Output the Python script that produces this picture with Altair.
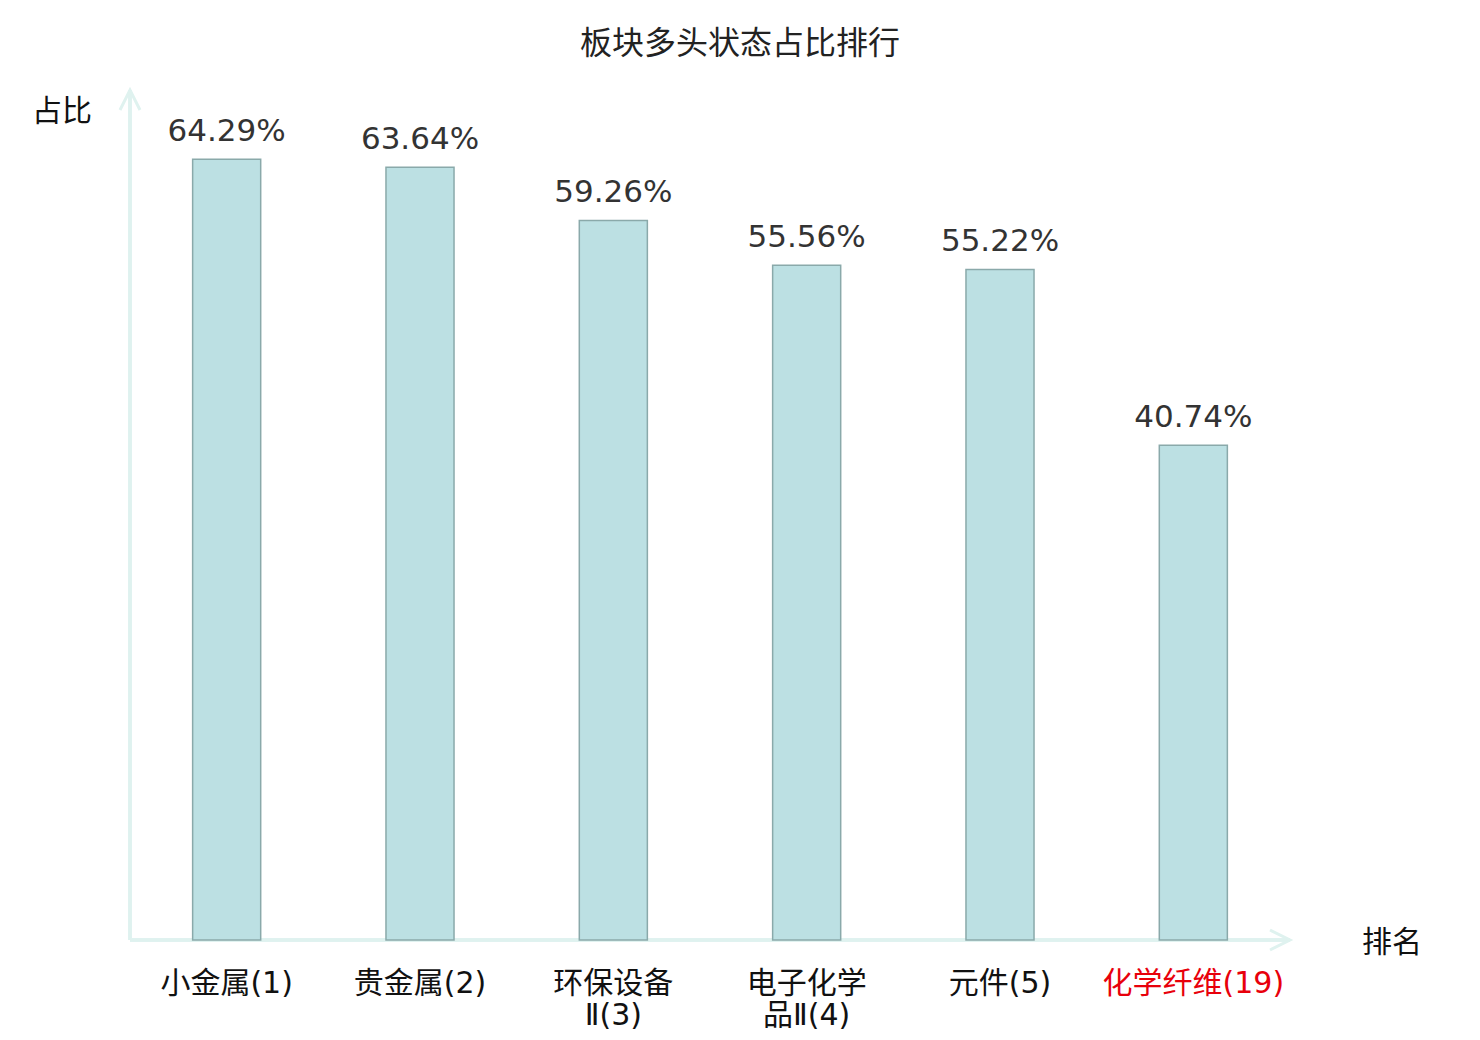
import altair as alt
import pandas as pd

categories = ["小金属(1)", "贵金属(2)", "环保设备Ⅱ(3)", "电子化学品Ⅱ(4)", "元件(5)", "化学纤维(19)"]
label_lines = ["小金属(1)", "贵金属(2)", "环保设备\nⅡ(3)", "电子化学\n品Ⅱ(4)", "元件(5)", "化学纤维(19)"]
values = [64.29, 63.64, 59.26, 55.56, 55.22, 40.74]
label_colors = ["#111111", "#111111", "#111111", "#111111", "#111111", "#e8000b"]

W, H = 1160, 850
AXIS_COLOR = "#dff2ef"
CJK = "Noto Sans CJK SC"
MIXED = "DejaVu Sans ExtraLight, DejaVu Sans, Noto Sans CJK SC"

df = pd.DataFrame({
    "cat": categories,
    "lab": label_lines,
    "val": values,
    "col": label_colors,
    "txt": [f"{v:.2f}%" for v in values],
})

x = alt.X("cat:N", sort=categories, axis=None,
          scale=alt.Scale(paddingInner=0.648, paddingOuter=0.324))
y = alt.Y("val:Q", axis=None, scale=alt.Scale(domain=[0, 70], nice=False))

base = alt.Chart(df)

bars = base.mark_bar(fill="#bce0e3", stroke="#8aa9aa", strokeWidth=1.5).encode(x=x, y=y)

vlabels = base.mark_text(font="DejaVu Sans", fontSize=31, color="#333333",
                         baseline="alphabetic", dy=-18).encode(x=x, y=y, text="txt:N")

xlabels = base.mark_text(font=MIXED, fontSize=30, baseline="top", lineBreak="\n",
                         lineHeight=32).encode(
    x=x, y=alt.value(H + 29), text="lab:N", color=alt.Color("col:N", scale=None))

yaxis = base.mark_rule(color=AXIS_COLOR, strokeWidth=3).encode(
    x=alt.value(0), y=alt.value(0), y2=alt.value(H))
xaxis = base.mark_rule(color=AXIS_COLOR, strokeWidth=3).encode(
    x=alt.value(0), x2=alt.value(W), y=alt.value(H))

up_arrow = alt.Chart(pd.DataFrame({"a": [0]})).mark_point(
    shape="M-0.5,1L0,0L0.5,1", size=1600, filled=False, stroke=AXIS_COLOR,
    strokeWidth=3, opacity=1).encode(x=alt.value(0), y=alt.value(0))
right_arrow = alt.Chart(pd.DataFrame({"a": [0]})).mark_point(
    shape="M-1,-0.5L0,0L-1,0.5", size=1600, filled=False, stroke=AXIS_COLOR,
    strokeWidth=3, opacity=1).encode(x=alt.value(W), y=alt.value(H))

yname = alt.Chart(pd.DataFrame({"t": ["占比"]})).mark_text(
    font=CJK, fontSize=30, color="#111111", baseline="middle", align="center").encode(
    x=alt.value(-68), y=alt.value(22), text="t:N")
xname = alt.Chart(pd.DataFrame({"t": ["排名"]})).mark_text(
    font=CJK, fontSize=30, color="#111111", baseline="middle", align="center").encode(
    x=alt.value(1262), y=alt.value(853), text="t:N")

chart = alt.layer(yaxis, xaxis, up_arrow, right_arrow, bars, vlabels, xlabels, yname, xname).properties(
    width=W, height=H,
    title=alt.Title("板块多头状态占比排行", fontSize=32, font=CJK, fontWeight="normal",
                    color="#222222", anchor="middle", frame="group", dx=30, offset=23),
    autosize=alt.AutoSizeParams(type="none"),
    padding={"left": 122, "top": 82, "right": 170, "bottom": 96},
).configure_view(stroke=None)

chart.save("out.html", embed_options={"renderer": "svg", "actions": False})
